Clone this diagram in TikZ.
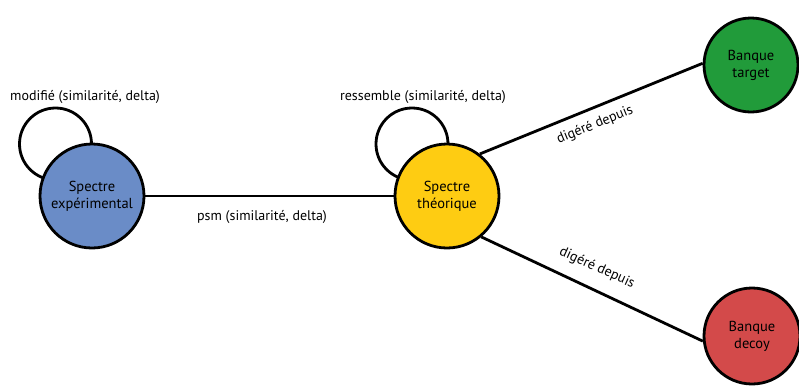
\documentclass[tikz,border=0pt]{standalone}
\usepackage{fontspec}
\setmainfont{PT Sans}
\definecolor{cblue}{RGB}{106,140,199}
\definecolor{cyellow}{RGB}{254,204,18}
\definecolor{cgreen}{RGB}{33,155,58}
\definecolor{cred}{RGB}{211,74,74}
\begin{document}
\begin{tikzpicture}[x=1pt,y=-1pt,
  ent/.style={circle,draw=black,line width=2.8pt,minimum size=104pt,inner sep=0pt,align=center,font=\fontsize{14.5}{17}\selectfont},
  conn/.style={line width=2.8pt},
  lbl/.style={font=\fontsize{14}{17}\selectfont,inner sep=1pt}]
\useasboundingbox (0,0) rectangle (799,389);
% self loops
\coordinate (l1) at (55.5,144);
\coordinate (l2) at (412,144);
\draw[conn] (l1) circle[radius=36];
\draw[conn] (l2) circle[radius=36];
% nodes
\node[ent,fill=cblue] (exp) at (92,196) {Spectre\\expérimental};
\node[ent,fill=cyellow] (theo) at (447,196) {Spectre\\théorique};
\node[ent,fill=cgreen,minimum size=94pt] (target) at (751,65) {Banque\\target};
\node[ent,fill=cred,minimum size=96pt] (decoy) at (752,336) {Banque\\decoy};
% edges
\draw[conn] (exp) -- (theo);
\draw[conn] (theo.52) -- (target.178);
\draw[conn] (theo.-50) -- (decoy.186);
% labels
\node[lbl] (t1) at (85,97) {modifié (similarité, delta)};
\node[lbl] (t2) at (423,97) {ressemble (similarité, delta)};
\node[lbl] (t3) at (262,217) {psm (similarité, delta)};
\node[lbl,rotate=22.5] (t4) at (595,125) {digéré depuis};
\node[lbl,rotate=-24.5] (t5) at (597,268) {digéré depuis};
\end{tikzpicture}
\end{document}
